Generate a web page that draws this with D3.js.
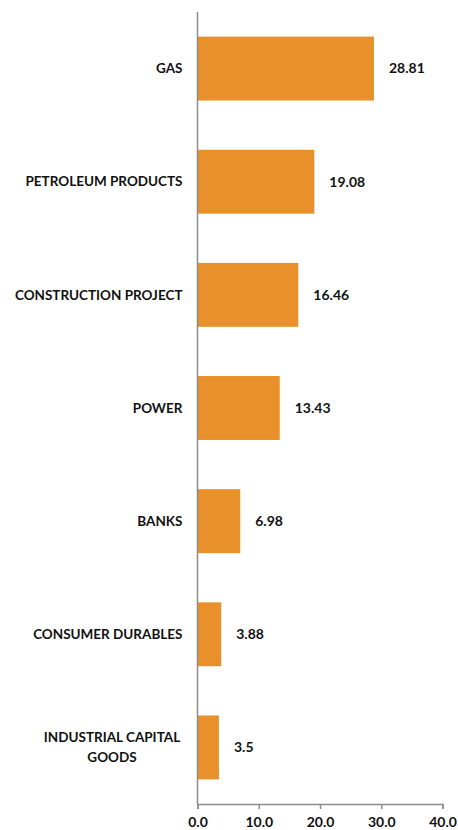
<!DOCTYPE html>
<html>
<head>
<meta charset="utf-8">
<script src="https://cdn.jsdelivr.net/npm/d3@7"></script>
<style>
  html, body { margin: 0; padding: 0; background: #fff; }
  svg text { font-family: Lato, "Open Sans", sans-serif; font-weight: bold; fill: #111; }
</style>
</head>
<body>
<svg id="chart" width="458" height="830"></svg>
<script>
// Sector shares, top to bottom
const categories = [
  ["GAS"],
  ["PETROLEUM PRODUCTS"],
  ["CONSTRUCTION PROJECT"],
  ["POWER"],
  ["BANKS"],
  ["CONSUMER DURABLES"],
  ["INDUSTRIAL CAPITAL", "GOODS"]
];
const values = [28.81, 19.08, 16.46, 13.43, 6.98, 3.88, 3.5];
const valueLabels = ["28.81", "19.08", "16.46", "13.43", "6.98", "3.88", "3.5"];
const xTicks = [0, 10, 20, 30, 40];

const svg = d3.select("#chart");
const plotLeft = 197.5, plotRight = 442.5, plotTop = 12, plotBottom = 804;

const x = d3.scaleLinear().domain([0, 40]).range([plotLeft, plotRight]);
const y = d3.scaleBand()
  .domain(d3.range(categories.length))
  .range([plotTop, plotBottom])
  .paddingInner(0.435)
  .paddingOuter(0.2175);

// bars
svg.append("g").selectAll("rect")
  .data(values)
  .join("rect")
  .attr("x", x(0))
  .attr("y", (d, i) => y(i))
  .attr("width", d => x(d) - x(0))
  .attr("height", y.bandwidth())
  .attr("fill", "#E8912A");

// value labels
svg.append("g").selectAll("text")
  .data(values)
  .join("text")
  .attr("x", d => x(d) + 15)
  .attr("y", (d, i) => y(i) + y.bandwidth() / 2)
  .attr("dy", "0.35em")
  .attr("font-size", 14)
  .text((d, i) => valueLabels[i]);

// category labels
const cat = svg.append("g").selectAll("text")
  .data(categories)
  .join("text")
  .attr("font-size", 13.5)
  .attr("text-anchor", d => d.length > 1 ? "middle" : "end")
  .attr("x", d => d.length > 1 ? 112 : plotLeft - 15)
  .attr("y", (d, i) => y(i) + y.bandwidth() / 2);
cat.selectAll("tspan")
  .data(d => d.map((line, k) => ({ line, k, n: d.length })))
  .join("tspan")
  .attr("x", function () { return this.parentNode.getAttribute("x"); })
  .attr("dy", t => t.k === 0 ? (0.35 - (t.n - 1) * 0.75) + "em" : "1.5em")
  .text(t => t.line);

// x axis
const xAxis = d3.axisBottom(x)
  .tickValues(xTicks)
  .tickFormat(d3.format(".1f"))
  .tickSize(5)
  .tickPadding(8);
const gx = svg.append("g")
  .attr("transform", `translate(0,${plotBottom})`)
  .call(xAxis);
gx.select(".domain").attr("stroke", "#8c8c8c").attr("stroke-width", 1.5);
gx.selectAll(".tick line").attr("stroke", "#8c8c8c").attr("stroke-width", 1.5);
gx.selectAll(".tick text")
  .attr("font-size", 14)
  .style("font-family", "Lato, 'Open Sans', sans-serif")
  .style("font-weight", "bold")
  .attr("fill", "#111");

// y axis line
svg.append("line")
  .attr("x1", plotLeft).attr("x2", plotLeft)
  .attr("y1", plotTop).attr("y2", plotBottom)
  .attr("stroke", "#8c8c8c")
  .attr("stroke-width", 1.5);
</script>
</body>
</html>
